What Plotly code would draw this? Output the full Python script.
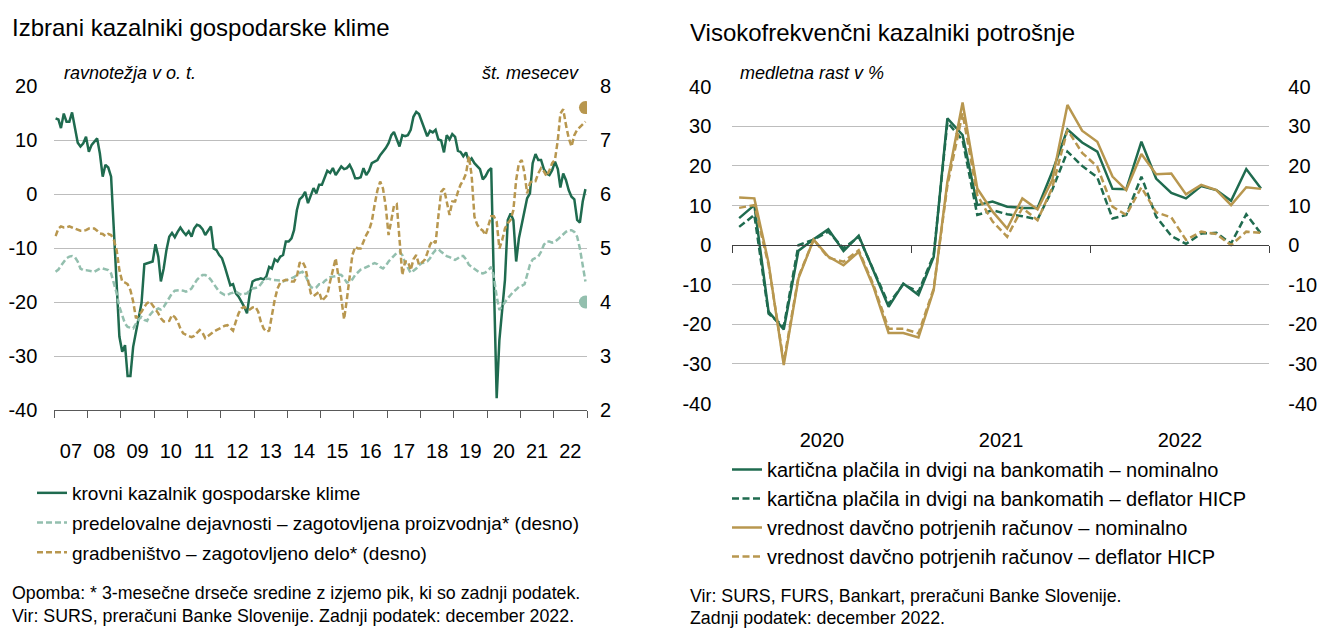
import pandas as pd
import plotly.graph_objects as go

# ---------------- data: left chart (monthly, Jan 2007 - Dec 2022) ----------------
left_start = "2007-01-01"
climate = [
    14.0, 13.8, 12.2, 14.9, 13.4, 13.4, 15.1, 11.9, 9.5, 8.8, 9.4, 10.6,
    7.8, 9.1, 9.7, 10.3, 7.5, 3.2, 5.4, 4.9, 3.2, -6.7, -17.2, -26.4,
    -29.2, -28.0, -33.7, -33.7, -28.3, -25.5, -23.0, -20.2, -13.0, -12.8, -12.7, -12.5,
    -9.3, -11.6, -16.2, -13.8, -10.4, -7.9, -7.2, -8.0, -7.0, -6.2, -7.0, -7.6,
    -6.9, -7.9, -6.4, -5.7, -5.9, -6.5, -7.6, -6.7, -6.0, -10.1, -10.4, -11.3,
    -11.9, -13.5, -15.3, -16.9, -16.7, -18.4, -19.0, -19.9, -20.9, -22.1, -18.4, -16.2,
    -15.9, -15.8, -15.6, -15.8, -15.3, -13.5, -13.8, -12.1, -12.5, -11.6, -11.3, -8.8,
    -8.8, -8.2, -6.7, -3.0, -1.0, -0.5, 0.4, -1.7, -0.2, 1.1, 0.1, 1.7,
    1.7, 3.2, 4.3, 3.9, 4.8, 3.5, 4.4, 5.1, 4.6, 4.8, 5.4, 4.4,
    2.9, 2.9, 3.1, 4.8, 3.5, 4.3, 5.7, 6.0, 6.3, 7.2, 7.8, 8.5,
    9.4, 10.9, 11.5, 10.0, 8.8, 10.9, 10.7, 10.9, 11.9, 14.3, 15.2, 14.8,
    13.4, 11.9, 10.7, 11.7, 11.4, 11.9, 10.1, 9.9, 7.7, 10.9, 10.1, 11.1,
    10.6, 8.0, 7.8, 7.0, 7.7, 6.0, 6.6, 5.7, 5.1, 4.6, 2.7, 3.3,
    4.3, 4.8, -16.0, -37.8, -27.0, -20.9, -15.9, -4.8, -3.6, -4.8, -12.5, -8.2,
    -5.4, -3.0, -0.8, 0.1, 5.7, 7.4, 6.3, 6.3, 4.6, 3.8, 3.5, 4.4,
    6.0, 4.6, 1.2, 3.8, 2.6, 0.7, -0.5, -1.0, -4.8, -5.3, -1.4, 0.9,
]
manufacturing = [
    4.56, 4.60, 4.67, 4.75, 4.81, 4.84, 4.85, 4.83, 4.75, 4.62, 4.59, 4.59,
    4.58, 4.56, 4.56, 4.59, 4.62, 4.62, 4.60, 4.59, 4.53, 4.35, 4.16, 3.91,
    3.73, 3.60, 3.54, 3.53, 3.51, 3.60, 3.68, 3.72, 3.67, 3.65, 3.76, 3.82,
    3.85, 3.88, 3.86, 3.91, 3.99, 4.07, 4.16, 4.21, 4.22, 4.22, 4.21, 4.19,
    4.21, 4.25, 4.33, 4.41, 4.46, 4.50, 4.50, 4.47, 4.41, 4.33, 4.25, 4.19,
    4.16, 4.13, 4.13, 4.16, 4.17, 4.19, 4.16, 4.13, 4.15, 4.16, 4.22, 4.25,
    4.26, 4.27, 4.33, 4.40, 4.43, 4.43, 4.41, 4.41, 4.41, 4.40, 4.38, 4.40,
    4.41, 4.43, 4.46, 4.50, 4.54, 4.56, 4.50, 4.38, 4.28, 4.25, 4.27, 4.33,
    4.33, 4.39, 4.42, 4.46, 4.47, 4.48, 4.51, 4.50, 4.44, 4.36, 4.38, 4.42,
    4.50, 4.56, 4.60, 4.62, 4.64, 4.67, 4.70, 4.72, 4.70, 4.65, 4.62, 4.67,
    4.75, 4.81, 4.87, 4.91, 4.93, 4.87, 4.73, 4.62, 4.54, 4.58, 4.62, 4.68,
    4.72, 4.73, 4.75, 4.81, 4.90, 4.96, 4.98, 4.93, 4.89, 4.85, 4.83, 4.81,
    4.78, 4.81, 4.85, 4.85, 4.79, 4.69, 4.65, 4.62, 4.58, 4.54, 4.53, 4.55,
    4.59, 4.65, 4.47, 4.10, 3.85, 3.93, 3.99, 4.07, 4.13, 4.19, 4.23, 4.28,
    4.30, 4.33, 4.50, 4.69, 4.79, 4.81, 4.84, 4.93, 5.06, 5.12, 5.12, 5.10,
    5.12, 5.16, 5.21, 5.26, 5.30, 5.33, 5.33, 5.30, 5.21, 4.99, 4.65, 4.38,
]
construction = [
    5.22, 5.36, 5.40, 5.38, 5.38, 5.40, 5.38, 5.36, 5.33, 5.32, 5.32, 5.33,
    5.36, 5.36, 5.36, 5.32, 5.27, 5.26, 5.22, 5.26, 5.24, 5.15, 4.96, 4.59,
    4.38, 4.36, 4.33, 4.22, 4.01, 3.70, 3.76, 3.82, 3.91, 3.98, 4.01, 3.94,
    3.85, 3.79, 3.70, 3.64, 3.64, 3.65, 3.76, 3.72, 3.64, 3.51, 3.42, 3.39,
    3.37, 3.35, 3.37, 3.43, 3.48, 3.43, 3.33, 3.37, 3.42, 3.45, 3.48, 3.51,
    3.54, 3.56, 3.57, 3.51, 3.47, 3.64, 3.79, 3.88, 3.91, 3.86, 3.86, 3.90,
    3.91, 3.82, 3.64, 3.51, 3.45, 3.47, 3.76, 4.04, 4.25, 4.36, 4.39, 4.41,
    4.40, 4.38, 4.38, 4.47, 4.72, 4.75, 4.65, 4.41, 4.16, 4.11, 4.15, 4.19,
    4.02, 4.07, 4.13, 4.38, 4.59, 4.81, 4.47, 4.04, 3.68, 4.04, 4.47, 4.87,
    5.02, 4.99, 4.99, 5.12, 5.24, 5.33, 5.49, 5.80, 6.07, 6.23, 6.10, 5.77,
    5.24, 5.52, 5.78, 5.81, 5.15, 4.50, 4.75, 4.75, 4.59, 4.79, 4.87, 4.69,
    4.73, 4.78, 4.90, 5.06, 5.14, 5.09, 5.58, 6.04, 6.10, 5.86, 5.61, 5.86,
    5.86, 6.04, 6.17, 6.26, 6.38, 6.70, 6.35, 5.58, 5.43, 5.36, 5.32, 5.24,
    5.40, 5.59, 5.59, 5.49, 4.99, 5.15, 5.36, 5.46, 5.52, 5.70, 6.26, 6.57,
    6.63, 6.38, 6.01, 6.20, 6.25, 6.24, 6.38, 6.48, 6.42, 6.33, 6.44, 6.57,
    6.64, 7.00, 7.49, 7.57, 7.28, 7.03, 6.88, 7.09, 7.19, 7.24, 7.30, 7.34,
]
# last actual (non-averaged) data points, December 2022
last_manufacturing = 4.0
last_construction = 7.6

# ---------------- data: right chart (monthly, Jan 2020 - Dec 2022) ----------------
right_start = "2020-01-01"
card_nominal = [6.8, 10.1, -16.8, -21.3, -1.4, 1.5, 4.0, -1.5, 2.4, -6.5, -15.6, -9.7,
                -12.6, -3.0, 32.0, 27.8, 10.1, 11.0, 9.7, 9.4, 9.4, 18.5, 29.2, 25.9,
                23.6, 14.2, 14.1, 26.1, 16.8, 13.2, 11.8, 14.9, 13.9, 11.2, 19.2, 14.3]
card_deflated = [4.6, 7.6, -17.3, -20.6, 0.0, 1.4, 3.4, -0.8, 2.1, -6.3, -14.9, -9.9,
                 -11.8, -2.5, 31.0, 26.5, 7.6, 8.8, 7.8, 7.3, 6.5, 14.0, 23.6, 20.0,
                 17.1, 6.7, 7.6, 17.3, 7.2, 2.3, 0.3, 2.9, 3.1, 0.4, 7.8, 2.9]
fiscal_nominal = [12.0, 11.8, -4.5, -30.3, -8.4, 1.4, -2.9, -5.1, -1.7, -10.5, -22.2, -22.2,
                  -23.3, -11.4, 16.0, 36.0, 14.3, 8.5, 4.2, 11.8, 9.0, 16.4, 35.4, 28.9,
                  26.1, 17.3, 13.9, 23.0, 17.9, 18.1, 12.8, 15.2, 13.9, 10.1, 14.6, 14.2]
fiscal_deflated = [9.4, 10.1, -5.0, -29.5, -8.0, 1.4, -3.2, -4.2, -1.3, -10.0, -21.1, -21.1,
                   -22.3, -11.0, 15.0, 33.3, 12.6, 6.0, 2.1, 9.4, 6.3, 14.5, 29.1, 23.3,
                   19.8, 9.7, 7.6, 14.6, 8.3, 7.0, 1.3, 3.4, 2.8, 0.0, 3.4, 3.1]

left_names = ["krovni kazalnik gospodarske klime",
              "predelovalne dejavnosti – zagotovljena proizvodnja* (desno)",
              "gradbeništvo – zagotovljeno delo* (desno)"]
right_names = ["kartična plačila in dvigi na bankomatih – nominalno",
               "kartična plačila in dvigi na bankomatih – deflator HICP",
               "vrednost davčno potrjenih računov – nominalno",
               "vrednost davčno potrjenih računov – deflator HICP"]

# axis tick values / labels
left_ticks = [-40, -30, -20, -10, 0, 10, 20]
left_ticks_r = [2, 3, 4, 5, 6, 7, 8]
right_ticks = [-40, -30, -20, -10, 0, 10, 20, 30, 40]

# ---------------- styling ----------------
# the page body has an 8px margin, so the figure is sized to the window minus that offset
OFF = 8
W, H = 1332 - OFF, 631 - OFF
FONT = "Liberation Sans, Arial, sans-serif"
GREEN = "#1F6B4F"
TEAL = "#93BFAE"
GOLD = "#B8974F"
GRID = "#BDBDBD"


def fx(p):
    return (p - OFF) / W


def fy(p):
    return 1 - (p - OFF) / H


def labels(vals):
    return [str(v) for v in vals]  # plain hyphen-minus like the original


dates_left = pd.date_range(left_start, periods=len(climate), freq="MS") + pd.Timedelta(days=14)
dates_right = pd.date_range(right_start, periods=len(card_nominal), freq="MS") + pd.Timedelta(days=14)

fig = go.Figure()

# left chart traces
fig.add_trace(go.Scatter(x=dates_left, y=manufacturing, name=left_names[1], xaxis="x", yaxis="y2",
                         mode="lines", line=dict(color=TEAL, width=2.5, dash="6px,3px"),
                         legend="legend", legendrank=2, legendgroup="l2"))
fig.add_trace(go.Scatter(x=dates_left, y=construction, name=left_names[2], xaxis="x", yaxis="y2",
                         mode="lines", line=dict(color=GOLD, width=2.5, dash="6px,3px"),
                         legend="legend", legendrank=3, legendgroup="l3"))
fig.add_trace(go.Scatter(x=dates_left, y=climate, name=left_names[0], xaxis="x", yaxis="y",
                         mode="lines", line=dict(color=GREEN, width=2.5),
                         legend="legend", legendrank=1, legendgroup="l1"))
fig.add_trace(go.Scatter(x=[dates_left[-1], dates_left[-1]], y=[last_construction, last_manufacturing],
                         xaxis="x", yaxis="y2", mode="markers",
                         marker=dict(size=13, color=[GOLD, TEAL]), showlegend=False, hoverinfo="skip"))

# right chart traces
styles = [(GREEN, "solid"), (GREEN, "7px,3.5px"), (GOLD, "solid"), (GOLD, "7px,3.5px")]
for k, (name, vals, (col, dash)) in enumerate(zip(right_names,
                                                  [card_nominal, card_deflated, fiscal_nominal, fiscal_deflated],
                                                  styles)):
    fig.add_trace(go.Scatter(x=dates_right, y=vals, name=name, xaxis="x2", yaxis="y3",
                             mode="lines", line=dict(color=col, width=2.5, dash=dash),
                             legend="legend2", legendrank=k + 1, legendgroup="r%d" % k))
# invisible helper traces so the mirror axes are drawn
fig.add_trace(go.Scatter(x=dates_right, y=card_nominal, xaxis="x2", yaxis="y4", mode="lines",
                         line=dict(width=0), opacity=0, showlegend=False, hoverinfo="skip"))
fig.add_trace(go.Scatter(x=dates_right, y=card_nominal, xaxis="x3", yaxis="y3", mode="lines",
                         line=dict(width=0), opacity=0, showlegend=False, hoverinfo="skip"))

tickfont = dict(family=FONT, size=20, color="#000000")

fig.update_layout(
    width=W, height=H,
    margin=dict(l=0, r=0, t=0, b=0, pad=0, autoexpand=False),
    paper_bgcolor="white", plot_bgcolor="white",
    font=dict(family=FONT, size=19, color="#000000"),
    hovermode=False,
    xaxis=dict(domain=[fx(54.3), fx(587)], anchor="y", type="date", automargin=False,
               range=["2007-01-01", "2023-01-01"], tick0="2007-01-01", dtick="M12",
               tickformat="%y", ticklabelmode="period", ticks="outside", ticklen=7,
               tickcolor="#595959", showline=True, linecolor="#595959", linewidth=1,
               showgrid=False, zeroline=False, tickfont=tickfont, ticklabelstandoff=16),
    yaxis=dict(domain=[fy(410), fy(86)], anchor="x", range=[-40, 20], automargin=False,
               tickmode="array", tickvals=left_ticks, ticktext=labels(left_ticks),
               showgrid=True, gridcolor=GRID, gridwidth=1, zeroline=False, showline=False,
               ticks="", tickfont=tickfont, ticklabelstandoff=16),
    yaxis2=dict(overlaying="y", side="right", anchor="x", range=[2, 8], automargin=False,
                tickmode="array", tickvals=left_ticks_r, ticktext=labels(left_ticks_r),
                showgrid=False, zeroline=False, showline=False, ticks="", tickfont=tickfont,
                ticklabelstandoff=12),
    xaxis2=dict(domain=[fx(732.3), fx(1269.3)], anchor="y3", type="date", automargin=False,
                range=["2020-01-01", "2023-01-01"], tick0="2020-01-01", dtick="M12",
                tickformat="%Y", ticklabelmode="period", ticks="", showline=False,
                showgrid=False, zeroline=False, tickfont=tickfont, ticklabelstandoff=22),
    xaxis3=dict(overlaying="x2", matches="x2", anchor="free", position=fy(245), type="date",
                tick0="2020-01-01", dtick="M12", ticks="outside", ticklen=7, automargin=False,
                tickcolor="#404040", showline=True, linecolor="#404040", linewidth=1,
                showticklabels=False, showgrid=False, zeroline=False),
    yaxis3=dict(domain=[fy(403.5), fy(86.7)], anchor="x2", range=[-40, 40], automargin=False,
                tickmode="array", tickvals=right_ticks, ticktext=labels(right_ticks),
                showgrid=True, gridcolor=GRID, gridwidth=1, zeroline=False, showline=False,
                ticks="", tickfont=tickfont, ticklabelstandoff=20),
    yaxis4=dict(overlaying="y3", side="right", anchor="x2", range=[-40, 40], automargin=False,
                tickmode="array", tickvals=right_ticks, ticktext=labels(right_ticks),
                showgrid=False, zeroline=False, showline=False, ticks="", tickfont=tickfont,
                ticklabelstandoff=18),
    legend=dict(x=fx(32), y=fy(474), xanchor="left", yanchor="top", bgcolor="rgba(0,0,0,0)",
                font=dict(family=FONT, size=19), traceorder="grouped", tracegroupgap=2,
                itemwidth=30),
    legend2=dict(x=fx(727), y=fy(450), xanchor="left", yanchor="top", bgcolor="rgba(0,0,0,0)",
                 font=dict(family=FONT, size=20), traceorder="grouped", tracegroupgap=0,
                 itemwidth=30),
)

annotations = [
    dict(text="Izbrani kazalniki gospodarske klime", x=fx(10), y=fy(28), size=24, anchor="left"),
    dict(text="Visokofrekvenčni kazalniki potrošnje", x=fx(688), y=fy(32), size=24, anchor="left"),
    dict(text="<i>ravnotežja v o. t.</i>", x=fx(62), y=fy(73), size=18, anchor="left"),
    dict(text="<i>št. mesecev</i>", x=fx(581), y=fy(73), size=18, anchor="right"),
    dict(text="<i>medletna rast v %</i>", x=fx(738), y=fy(73), size=18, anchor="left"),
    dict(text="Opomba: * 3-mesečne drseče sredine z izjemo pik, ki so zadnji podatek.",
         x=fx(10), y=fy(593), size=17.8, anchor="left"),
    dict(text="Vir: SURS, preračuni Banke Slovenije. Zadnji podatek: december 2022.",
         x=fx(10), y=fy(616), size=17.8, anchor="left"),
    dict(text="Vir: SURS, FURS, Bankart, preračuni Banke Slovenije.",
         x=fx(688), y=fy(596), size=17.8, anchor="left"),
    dict(text="Zadnji podatek: december 2022.", x=fx(688), y=fy(618), size=17.8, anchor="left"),
]
for a in annotations:
    fig.add_annotation(text=a["text"], x=a["x"], y=a["y"], xref="paper", yref="paper",
                       xanchor=a["anchor"], yanchor="middle", showarrow=False,
                       font=dict(family=FONT, size=a["size"], color="#000000"))

fig.write_html("out.html")
